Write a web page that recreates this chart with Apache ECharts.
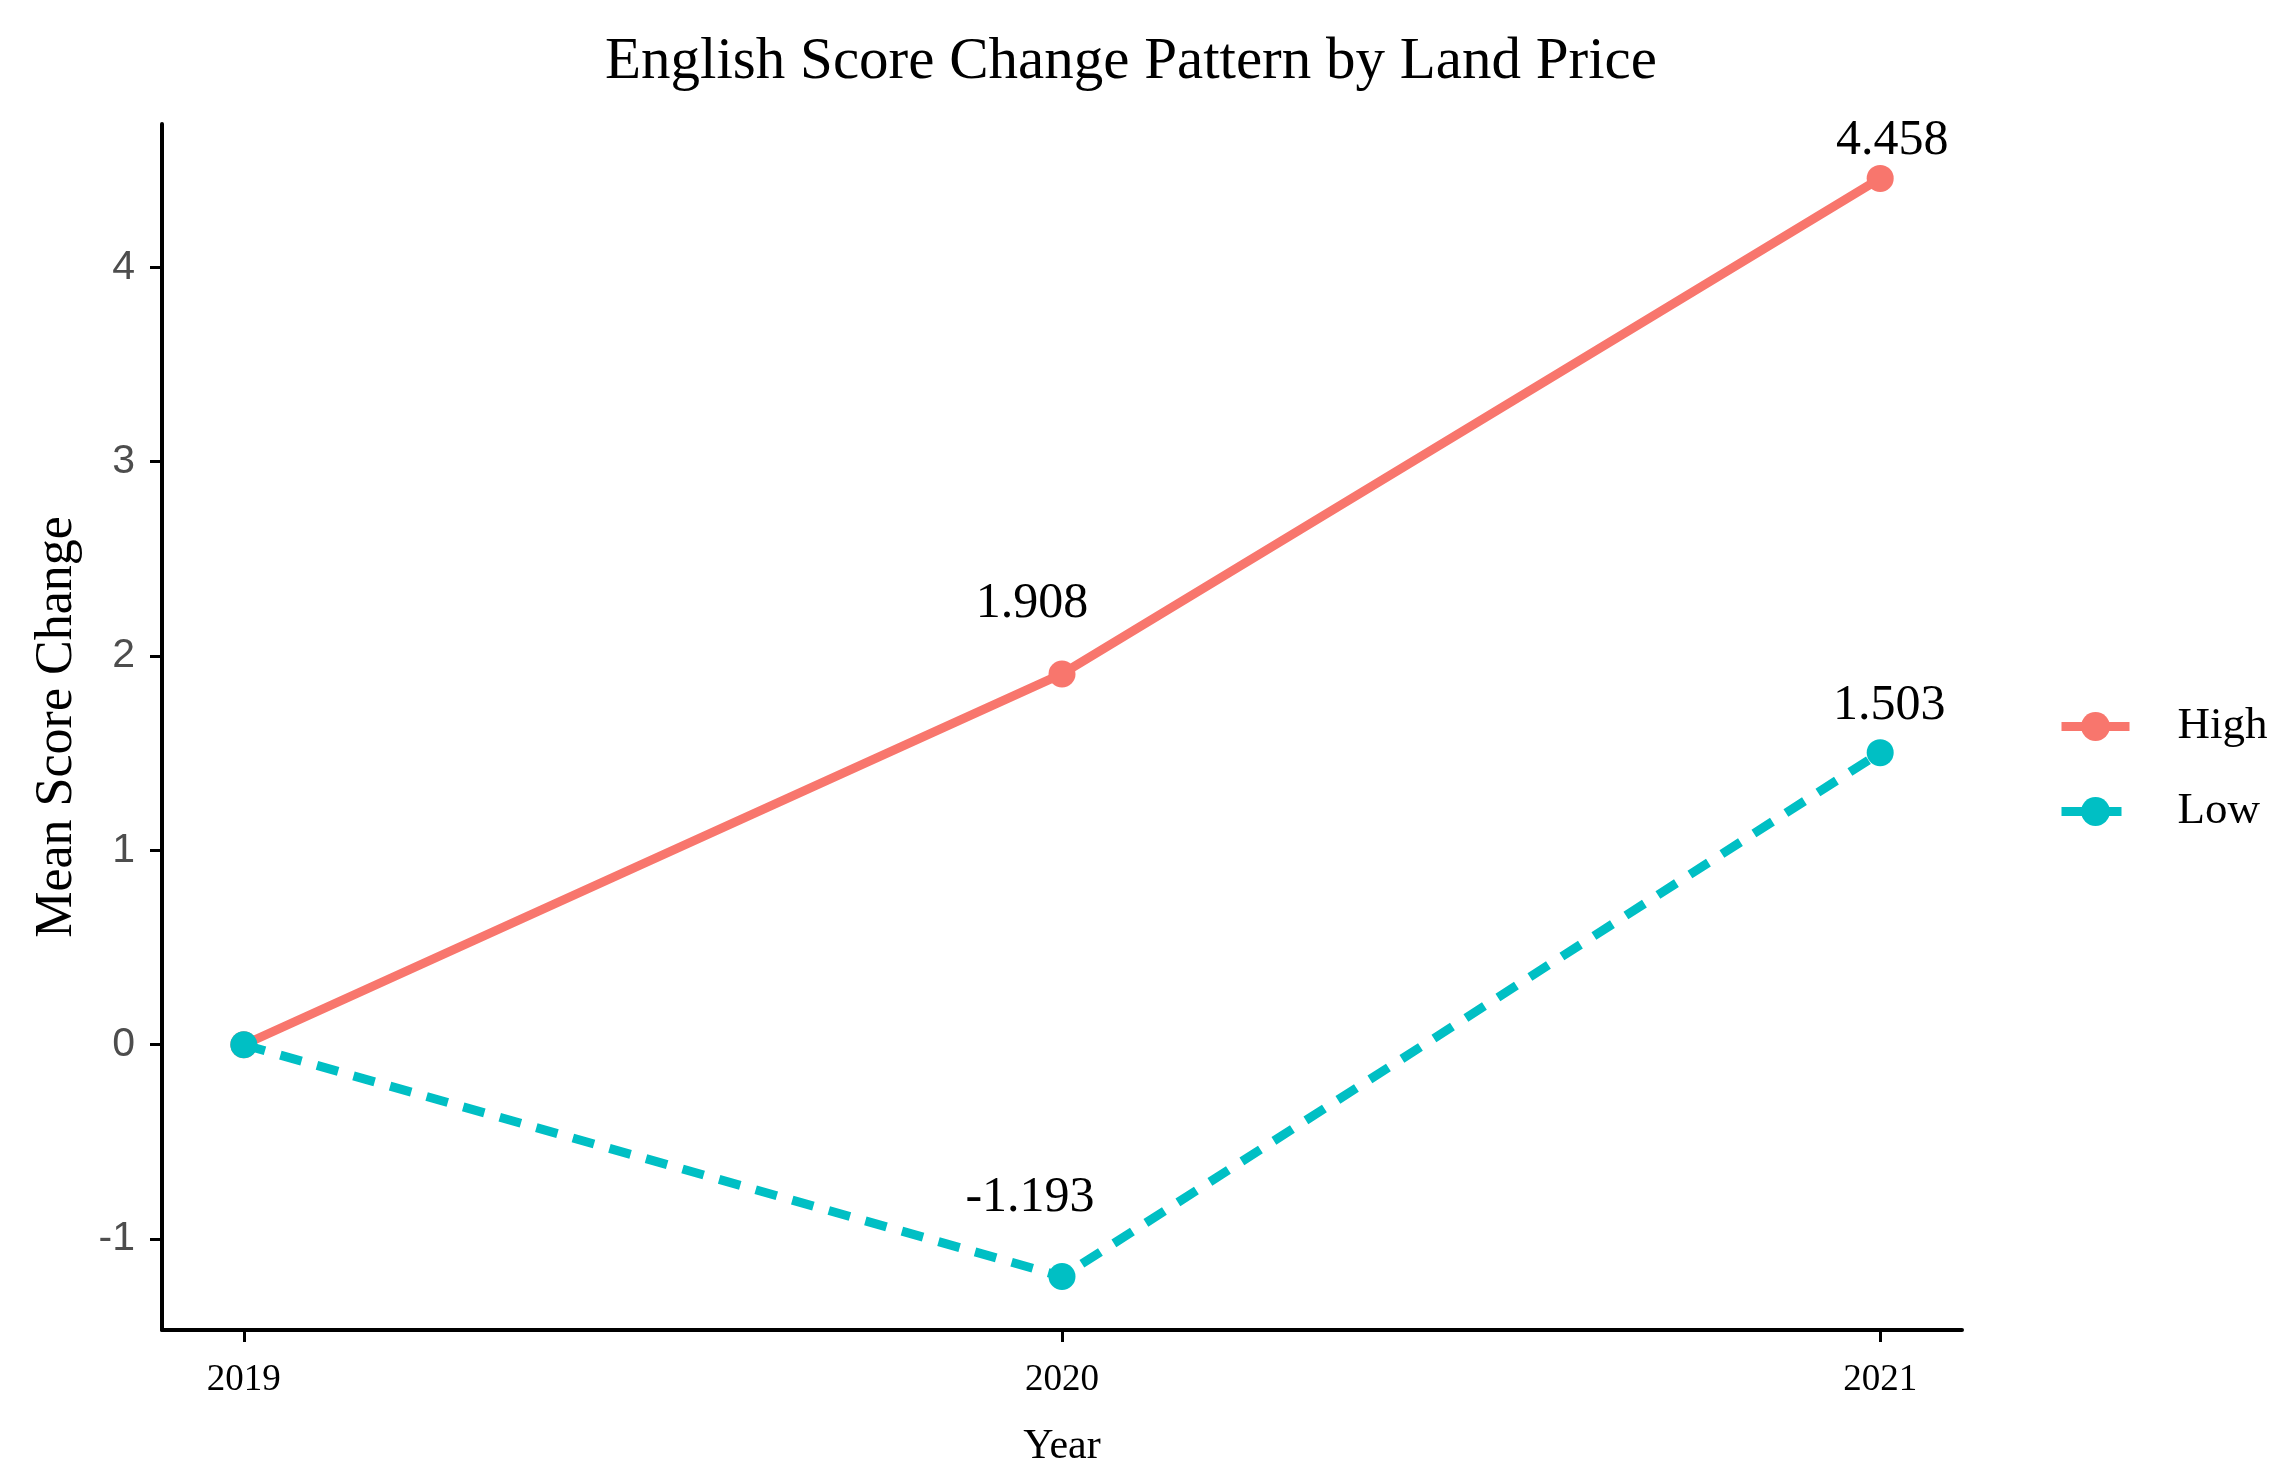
<!DOCTYPE html>
<html>
<head>
<meta charset="utf-8">
<script src="https://cdn.jsdelivr.net/npm/echarts@6/dist/echarts.min.js"></script>
<style>html,body{margin:0;padding:0;background:#fff}#c{width:2282px;height:1481px}</style>
</head>
<body>
<div id="c"></div>
<script>
const years = [2019, 2020, 2021];
const highValues = [0, 1.908, 4.458];
const lowValues = [0, -1.193, 1.503];
const yTicks = [-1, 0, 1, 2, 3, 4];
const seriesNames = ['High', 'Low'];

// label placement (styling, not data)
const highLabelOffsets = [null, [-30, -70], [12, -38]];
const lowLabelOffsets = [null, [-32, -79], [9, -47]];

function buildData(xs, ys, offsets) {
  return xs.map((x, i) => {
    const item = { value: [x, ys[i]] };
    if (offsets[i]) {
      item.label = { show: true, position: 'inside', offset: offsets[i],
        formatter: () => ys[i].toFixed(3) };
    }
    return item;
  });
}

const serif = 'Liberation Serif';
const chart = echarts.init(document.getElementById('c'));
chart.setOption({
  animation: false,
  backgroundColor: '#fff',
  title: {
    text: 'English Score Change Pattern by Land Price',
    left: 1126, top: 28, textAlign: 'center',
    textStyle: { fontFamily: serif, fontSize: 59, fontWeight: 'normal', color: '#000' }
  },
  legend: {
    orient: 'vertical', left: 2052, top: 699,
    itemWidth: 68, itemHeight: 36, itemGap: 40,
    data: seriesNames,
    lineStyle: { width: 9 },
    textStyle: { fontFamily: serif, fontSize: 45, color: '#000', padding: [0, 0, 0, 43] }
  },
  grid: { left: 162, right: 320, top: 124, bottom: 151 },
  xAxis: {
    type: 'value', min: 2018.9, max: 2021.1,
    name: 'Year', nameLocation: 'middle', nameGap: 96,
    nameTextStyle: { fontFamily: serif, fontSize: 42, color: '#000' },
    axisLine: { show: true, onZero: false, lineStyle: { color: '#000', width: 4 } },
    axisTick: { show: true, customValues: years, length: 12, lineStyle: { color: '#000', width: 3 } },
    axisLabel: { customValues: years, margin: 32, fontFamily: serif, fontSize: 37, color: '#000',
      formatter: v => String(v) },
    splitLine: { show: false }
  },
  yAxis: {
    type: 'value', min: -1.468, max: 4.738,
    name: 'Mean Score Change', nameLocation: 'middle', nameGap: 79, nameRotate: 90,
    nameTextStyle: { fontFamily: serif, fontSize: 52, color: '#000' },
    axisLine: { show: true, onZero: false, lineStyle: { color: '#000', width: 4 } },
    axisTick: { show: true, customValues: yTicks, length: 12, lineStyle: { color: '#000', width: 3 } },
    axisLabel: { customValues: yTicks, margin: 27, fontFamily: 'Liberation Sans', fontSize: 41, color: '#4d4d4d',
      formatter: v => String(v) },
    splitLine: { show: false }
  },
  series: [
    {
      name: 'High', type: 'line',
      data: buildData(years, highValues, highLabelOffsets),
      symbol: 'circle', symbolSize: 27,
      itemStyle: { color: '#F8766D' },
      lineStyle: { color: '#F8766D', width: 9 },
      label: { show: false, fontFamily: serif, fontSize: 50, color: '#000' },
      z: 3
    },
    {
      name: 'Low', type: 'line',
      data: buildData(years, lowValues, lowLabelOffsets),
      symbol: 'circle', symbolSize: 27,
      itemStyle: { color: '#00BFC4' },
      lineStyle: { color: '#00BFC4', width: 9, type: [22, 16] },
      label: { show: false, fontFamily: serif, fontSize: 50, color: '#000' },
      z: 4
    }
  ]
});
</script>
</body>
</html>
